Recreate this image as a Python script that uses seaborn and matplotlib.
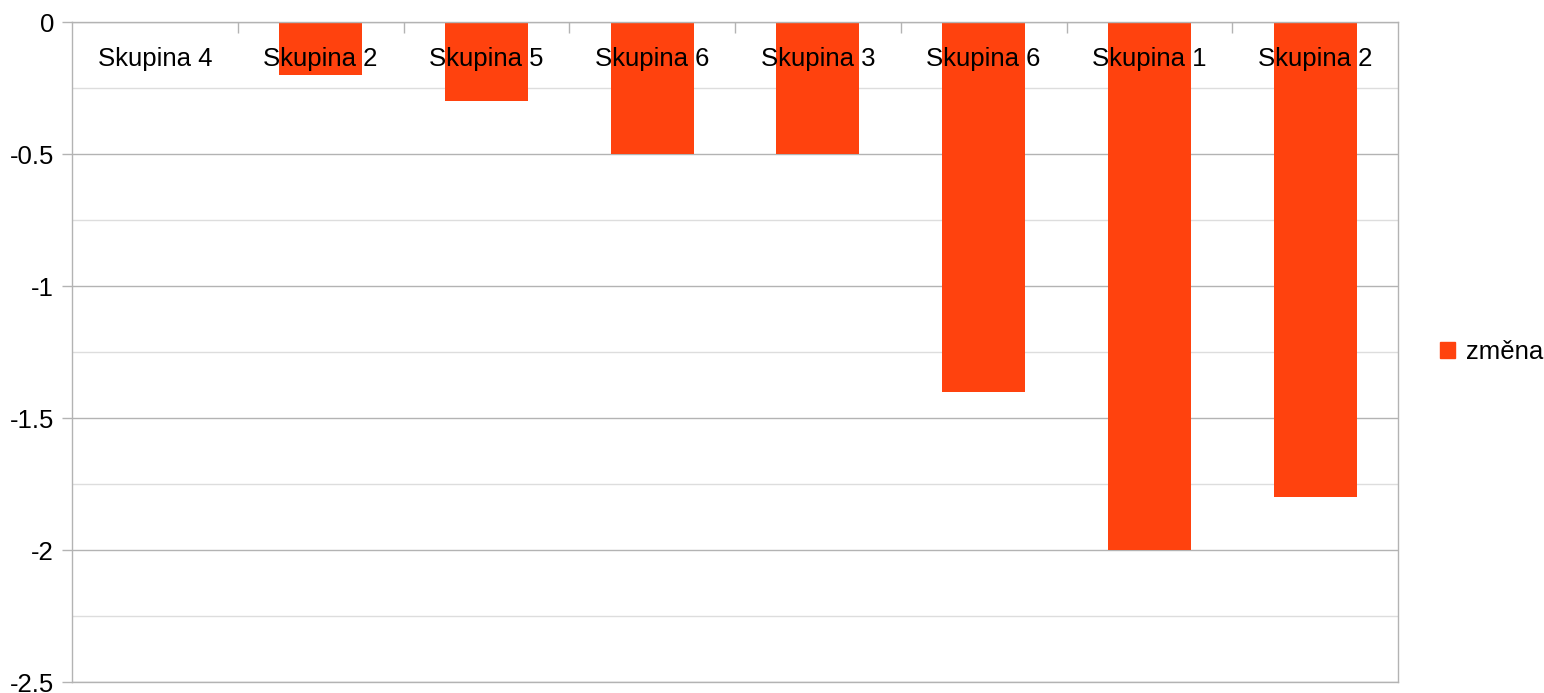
import numpy as np
import pandas as pd
import matplotlib
matplotlib.use('Agg')
import matplotlib.pyplot as plt
import seaborn as sns
from matplotlib.patches import Patch

# Data
categories = ['Skupina 4', 'Skupina 2', 'Skupina 5', 'Skupina 6',
              'Skupina 3', 'Skupina 6', 'Skupina 1', 'Skupina 2']
zmena = [0.0, -0.2, -0.3, -0.5, -0.5, -1.4, -2.0, -1.8]
series_name = 'změna'

bar_color = '#FF420E'
grid_major = '#b3b3b3'
grid_minor = '#dddddd'
fs = 18.5
df = pd.DataFrame({'pos': range(len(categories)), 'value': zmena})

sns.set_style('white')
plt.rcParams['font.family'] = ['Liberation Sans', 'DejaVu Sans']

fig = plt.figure(figsize=(15.44, 6.93), dpi=100)
ax = fig.add_axes([72 / 1544, 1 - 682 / 693, (1398 - 72) / 1544, (682 - 22) / 693])

sns.barplot(data=df, x='pos', y='value', color=bar_color, width=0.5,
            saturation=1, linewidth=0, ax=ax)

ax.set_xlim(-0.5, len(categories) - 0.5)
ax.set_ylim(-2.5, 0)

# y ticks and grid
ax.set_yticks(np.arange(-2.5, 0.01, 0.5))
ax.set_yticklabels(['-2.5', '-2', '-1.5', '-1', '-0.5', '0'])
ax.set_yticks(np.arange(-2.25, 0, 0.5), minor=True)
ax.yaxis.grid(True, which='major', color=grid_major, linewidth=1)
ax.yaxis.grid(True, which='minor', color=grid_minor, linewidth=1)
ax.set_axisbelow(True)
ax.tick_params(axis='y', which='major', direction='out', length=7, width=1,
               color=grid_major, labelsize=fs, labelcolor='black', pad=6, left=True)
ax.tick_params(axis='y', which='minor', length=0)

# x axis along the zero line at the top; category labels sit inside the plot
ax.xaxis.tick_top()
ax.set_xticks(range(len(categories)))
ax.set_xticklabels([])
ax.set_xticks(np.arange(0.5, len(categories) - 0.5, 1), minor=True)
ax.tick_params(axis='x', which='major', length=0)
ax.tick_params(axis='x', which='minor', direction='in', length=8, width=1,
               color=grid_major, top=True, bottom=False)
for i, cat in enumerate(categories):
    ax.annotate(cat, xy=(i, 0), xytext=(0, -26.5), textcoords='offset points',
                ha='center', va='center', fontsize=fs, color='black', zorder=5)

ax.set_xlabel('')
ax.set_ylabel('')

for side in ['left', 'right', 'top', 'bottom']:
    ax.spines[side].set_visible(True)
    ax.spines[side].set_color(grid_major)
    ax.spines[side].set_linewidth(1)

handle = Patch(facecolor=bar_color, edgecolor=bar_color)
fig.legend([handle], [series_name], loc='center left',
           bbox_to_anchor=(1440 / 1544, 1 - 352 / 693), frameon=False,
           fontsize=fs, labelcolor='black', handlelength=0.6, handleheight=0.6,
           handletextpad=0.4, borderpad=0, borderaxespad=0)

fig.savefig('out.png', dpi=100)
